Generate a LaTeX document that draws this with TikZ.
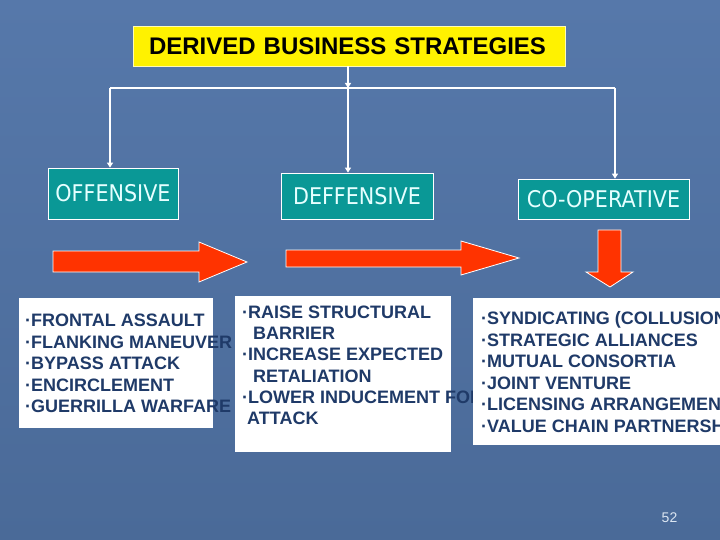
\documentclass[tikz,border=0pt]{standalone}
\usepackage{fontspec}
\setmainfont{Liberation Sans}
\newfontfamily\tealfont{DejaVu Sans}
\usepackage{graphicx}
\usetikzlibrary{arrows.meta}
\definecolor{bgtop}{RGB}{86,120,170}
\definecolor{bgbot}{RGB}{74,106,152}
\definecolor{tealbox}{RGB}{10,152,150}
\definecolor{navy}{RGB}{31,58,104}
\definecolor{arrowred}{RGB}{255,51,0}
\definecolor{tealtext}{RGB}{230,255,255}
\definecolor{pagenum}{RGB}{220,230,242}
\begin{document}
\begin{tikzpicture}[x=1pt,y=-1pt,
  conn/.style={draw=white,line width=1.2pt},
  tipped/.style={-{Triangle[width=6pt,length=5pt]}},
  tealnode/.style={draw=white,line width=0.8pt,fill=tealbox,inner sep=0pt,text=tealtext,font=\tealfont\fontsize{23}{27}\selectfont},
  listbox/.style={fill=white,inner sep=0pt,anchor=north west},
  item/.style={anchor=base west,inner sep=0pt,text=navy,font=\bfseries\fontsize{18}{21.6}\selectfont},
  blockarrow/.style={fill=arrowred,draw=white,line width=0.8pt,line join=miter}]
\useasboundingbox (0,0) rectangle (720,540);
\clip (0,0) rectangle (720,540);
\shade[top color=bgtop,bottom color=bgbot] (0,0) rectangle (720,540);

% title
\node[fill=yellow,draw=white!70!yellow,line width=0.8pt,minimum width=432pt,minimum height=40pt,
  inner sep=0pt,text width=400pt,align=left,font=\bfseries\fontsize{24}{28}\selectfont] (title) at (349,46) {DERIVED BUSINESS STRATEGIES};

% category boxes
\node[tealnode,minimum width=130pt,minimum height=51pt] (off) at (113,193.5) {\scalebox{0.9}[1]{OFFENSIVE}};
\node[tealnode,minimum width=152pt,minimum height=46pt] (def) at (357,196) {\scalebox{0.9}[1]{DEFFENSIVE}};
\node[tealnode,minimum width=171pt,minimum height=40pt] (coop) at (603.5,199) {\scalebox{0.9}[1]{CO-OPERATIVE}};

% connectors
\coordinate (jm) at (348,88);
\coordinate (jl) at (110,88);
\coordinate (jr) at (615,88);
\draw[conn,tipped] (title.south -| jm) -- (jm);
\draw[conn] (jl) -- (jr);
\draw[conn,tipped] (jl) -- (jl |- off.north);
\draw[conn,tipped] (jm) -- (jm |- def.north);
\draw[conn,tipped] (jr) -- (jr |- coop.north);

% block arrows
\filldraw[blockarrow] (53,251) -- (199,251) -- (199,242) -- (247,262) -- (199,282) -- (199,272) -- (53,272) -- cycle;
\filldraw[blockarrow] (286,250) -- (461,250) -- (461,241) -- (519,258) -- (461,275) -- (461,267) -- (286,267) -- cycle;
\filldraw[blockarrow] (598,230) -- (621,230) -- (621,272) -- (633,272) -- (610,287) -- (586,272) -- (598,272) -- cycle;

% list 1
\node[listbox,minimum width=194pt,minimum height=130pt] (l1) at (19,298) {};
\foreach \t [count=\i from 0] in {{·FRONTAL ASSAULT},{·FLANKING MANEUVER},{·BYPASS ATTACK},{·ENCIRCLEMENT},{·GUERRILLA WARFARE}}
  \node[item] (a\i) at (25,{326.5+21.6*\i}) {\t};

% list 2
\node[listbox,minimum width=216pt,minimum height=156pt] (l2) at (235,296) {};
\node[item] (b0) at (242,318.3) {·RAISE STRUCTURAL};
\node[item] (b1) at (253,339.6) {BARRIER};
\node[item] (b2) at (242,360.9) {·INCREASE EXPECTED};
\node[item] (b3) at (253,382.2) {RETALIATION};
\node[item] (b4) at (242,403.5) {·LOWER INDUCEMENT FOR};
\node[item] (b5) at (247,424.8) {ATTACK};

% list 3
\node[listbox,minimum width=260pt,minimum height=147pt] (l3) at (473,298) {};
\foreach \t [count=\i from 0] in {{·SYNDICATING (COLLUSION)},{·STRATEGIC ALLIANCES},{·MUTUAL CONSORTIA},{·JOINT VENTURE},{·LICENSING ARRANGEMENTS},{·VALUE CHAIN PARTNERSHIPS}}
  \node[item] (c\i) at (481,{324.5+21.6*\i}) {\t};

% page number
\node[text=pagenum,font=\fontsize{14}{16}\selectfont,anchor=base,inner sep=0pt] (pg) at (669.5,522) {52};
\end{tikzpicture}
\end{document}
